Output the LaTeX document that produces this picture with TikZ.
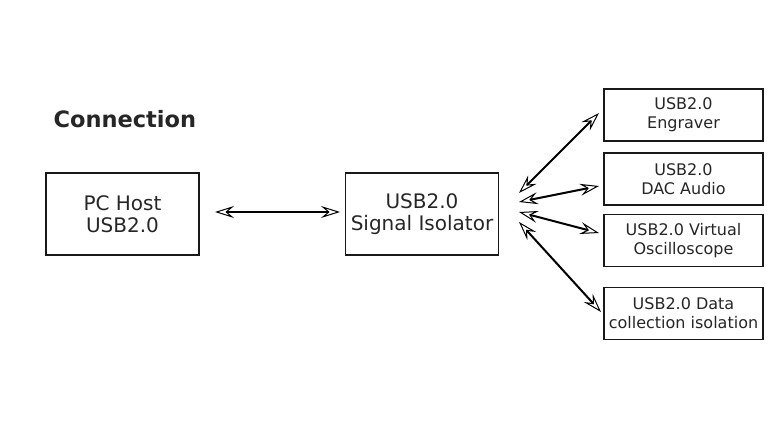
\documentclass[tikz,border=0pt]{standalone}
\usepackage{fontspec}
\setmainfont{DejaVu Sans}
\usetikzlibrary{arrows.meta}
\begin{document}
\begin{tikzpicture}[x=1pt,y=-1pt,
  box/.style={draw=black!90,line width=1.3pt,inner sep=0pt,align=center,text=black!85},
  bigbox/.style={box,minimum width=153pt,minimum height=82pt,font=\fontsize{20}{21.5}\selectfont},
  smallbox/.style={box,minimum width=159pt,minimum height=52pt,font=\fontsize{16}{19}\selectfont},
  tip/.style={Stealth[open,length=19pt,width=12pt,inset=7pt,line width=1pt]},
  link/.style={line width=2pt,{Stealth[open,length=19pt,width=12pt,inset=7pt,line width=1pt]}-{Stealth[open,length=19pt,width=12pt,inset=7pt,line width=1pt]}}]
\useasboundingbox (0,0) rectangle (773,420);
\node[anchor=west,font=\fontsize{22.5}{25}\selectfont\bfseries,text=black!85] (title) at (50,119) {Connection};
\node[bigbox] (pc) at (122.5,214) {PC Host\\USB2.0};
\node[bigbox] (iso) at (422,214) {USB2.0\\Signal Isolator};
\node[smallbox] (eng) at (683.5,115) {USB2.0\\Engraver};
\node[smallbox] (dac) at (683.5,179) {USB2.0\\DAC Audio};
\node[smallbox] (osc) at (683.5,240.5) {USB2.0 Virtual\\Oscilloscope};
\node[smallbox] (data) at (683.5,313.5) {USB2.0 Data\\collection isolation};
\coordinate (a1) at (519,193);
\coordinate (a2) at (519,202);
\coordinate (a3) at (519,212);
\coordinate (a4) at (519,222);
\coordinate (b1) at (599,113);
\coordinate (b2) at (599,186);
\coordinate (b3) at (599,233);
\coordinate (b4) at (601,312);
\coordinate (l1) at (215,212);
\coordinate (l2) at (340,212);
\draw[link] (l1) -- (l2);
\draw[link] (a1) -- (b1);
\draw[link] (a2) -- (b2);
\draw[link] (a3) -- (b3);
\draw[link] (a4) -- (b4);
\end{tikzpicture}
\end{document}
